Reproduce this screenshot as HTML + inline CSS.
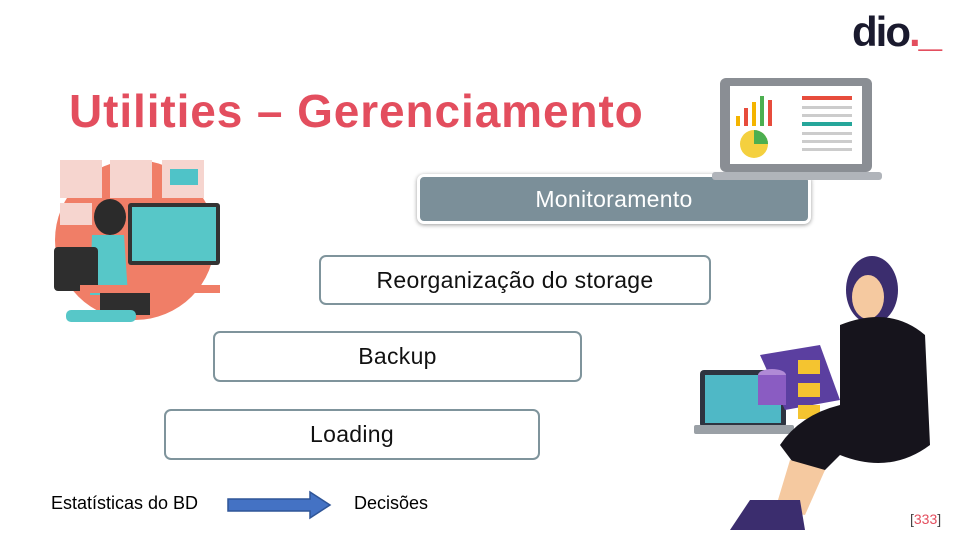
<!DOCTYPE html><html><head><meta charset="utf-8"><style>
body{margin:0;width:960px;height:540px;background:#fff;position:relative;overflow:hidden;font-family:"Liberation Sans",sans-serif}
.a{position:absolute}
.box{position:absolute;border:2.5px solid #7f949c;border-radius:7px;background:#fff;display:flex;align-items:center;justify-content:center;font-size:23px;color:#111;box-sizing:border-box;letter-spacing:0.3px}
</style></head><body>
<div class="a" style="left:69px;top:84px;font-size:46px;font-weight:bold;color:#e34e5e;letter-spacing:0.9px">Utilities – Gerenciamento</div>
<div class="a" style="left:852px;top:8px;font-size:42px;font-weight:bold;color:#1a1a2e;letter-spacing:-2px">dio<span style="color:#e34e5e">._</span></div>
<div class="box" style="left:417px;top:174px;width:394px;height:50px;background:#7b8f99;border:3px solid #fff;box-shadow:0 1px 4px rgba(0,0,0,.4);color:#fff">Monitoramento</div>
<div class="box" style="left:319px;top:255px;width:392px;height:50px">Reorganização do storage</div>
<div class="box" style="left:213px;top:331px;width:369px;height:51px">Backup</div>
<div class="box" style="left:164px;top:409px;width:376px;height:51px">Loading</div>
<div class="a" style="left:51px;top:493px;font-size:18px">Estatísticas do BD</div>
<div class="a" style="left:354px;top:493px;font-size:18px">Decisões</div>
<svg class="a" style="left:226px;top:490px" width="108" height="30"><polygon points="2,9 84,9 84,2 104,15 84,28 84,21 2,21" fill="#4472c4" stroke="#2f5597" stroke-width="1.5"/></svg>
<div class="a" style="left:910px;top:511px;font-size:14px;color:#444">[<span style="color:#e34e5e">333</span>]</div>
<svg class="a" style="left:712px;top:76px" width="172" height="110">
<rect x="8" y="2" width="152" height="94" rx="6" fill="#8a8e94"/>
<rect x="18" y="10" width="132" height="78" fill="#fff"/>
<rect x="24" y="40" width="4" height="10" fill="#f4b400"/><rect x="32" y="32" width="4" height="18" fill="#e74c3c"/><rect x="40" y="26" width="4" height="24" fill="#f4b400"/><rect x="48" y="20" width="4" height="30" fill="#4caf50"/><rect x="56" y="24" width="4" height="26" fill="#e74c3c"/>
<circle cx="42" cy="68" r="14" fill="#f4d03f"/><path d="M42 68 L42 54 A14 14 0 0 1 56 68Z" fill="#4caf50"/>
<rect x="90" y="20" width="50" height="4" fill="#e74c3c"/><rect x="90" y="30" width="50" height="3" fill="#ccc"/><rect x="90" y="38" width="50" height="3" fill="#ccc"/><rect x="90" y="46" width="50" height="4" fill="#26a69a"/><rect x="90" y="56" width="50" height="3" fill="#ccc"/><rect x="90" y="64" width="50" height="3" fill="#ccc"/><rect x="90" y="72" width="50" height="3" fill="#ccc"/>
<rect x="0" y="96" width="170" height="8" rx="3" fill="#b0b4ba"/>
</svg>
<svg class="a" style="left:40px;top:155px" width="190" height="175">
<circle cx="95" cy="85" r="80" fill="#f07e67"/>
<rect x="20" y="5" width="42" height="38" fill="#f6d5cf"/><rect x="70" y="5" width="42" height="38" fill="#f6d5cf"/><rect x="122" y="5" width="42" height="38" fill="#f6d5cf"/>
<rect x="130" y="14" width="28" height="16" fill="#4fc3c8"/>
<rect x="20" y="48" width="32" height="22" fill="#f6d5cf"/>
<rect x="88" y="48" width="92" height="62" rx="3" fill="#333"/><rect x="92" y="52" width="84" height="54" fill="#57c7c8"/>
<ellipse cx="70" cy="62" rx="16" ry="18" fill="#2b2b2b"/>
<path d="M52 80 L84 80 L88 140 L50 140Z" fill="#57c7c8"/>
<rect x="14" y="92" width="44" height="44" rx="4" fill="#2e2e2e"/>
<rect x="40" y="130" width="140" height="8" fill="#f07e67"/>
<rect x="60" y="138" width="50" height="22" fill="#2e2e2e"/>
<rect x="26" y="155" width="70" height="12" rx="5" fill="#57c7c8"/>
</svg>
<svg class="a" style="left:690px;top:245px" width="260" height="295">
<rect x="10" y="125" width="86" height="58" rx="4" fill="#2e3440"/><rect x="15" y="130" width="76" height="48" fill="#4fb8c6"/>
<rect x="4" y="180" width="100" height="9" rx="2" fill="#9aa0a6"/>
<polygon points="70,110 130,100 150,155 95,165" fill="#5b3fa0"/>
<ellipse cx="82" cy="130" rx="14" ry="6" fill="#b08ad6"/><rect x="68" y="130" width="28" height="30" fill="#8a5cc2"/>
<rect x="108" y="115" width="22" height="14" fill="#f4c430"/><rect x="108" y="138" width="22" height="14" fill="#f4c430"/><rect x="108" y="160" width="22" height="14" fill="#f4c430"/>
<ellipse cx="182" cy="45" rx="26" ry="34" fill="#3b2d6e"/><ellipse cx="178" cy="52" rx="16" ry="22" fill="#f5c9a0"/>
<path d="M150 80 Q200 60 235 90 L240 200 Q200 230 150 210 L120 240 L90 200 Q110 170 150 160Z" fill="#16141c"/>
<path d="M100 215 L135 225 L115 270 L85 265Z" fill="#f5c9a0"/>
<path d="M60 255 L110 255 L115 285 L40 285Z" fill="#3b2d6e"/>
</svg>
</body></html>
